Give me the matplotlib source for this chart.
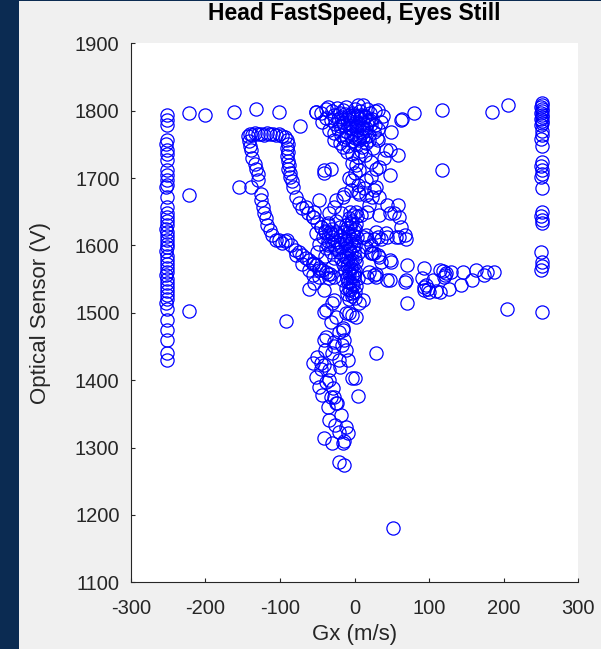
import matplotlib.pyplot as plt
from matplotlib.patches import Rectangle

plt.rcParams['font.family'] = ['Liberation Sans', 'DejaVu Sans']
plt.rcParams['axes.unicode_minus'] = False

# saturated readings at the left and right ends of the Gx range
left_gx = [-252, -251, -252, -252, -253, -252, -251, -252, -252, -252, -251, -252,
           -253, -252, -252, -252, -252, -251, -252, -253, -252, -252, -251, -252,
           -252, -253, -252, -252, -251, -252, -252, -253, -252, -252, -251, -252,
           -252, -252, -253, -252, -252, -252, -251, -252, -252]
left_v = [1793, 1786, 1779, 1756, 1750, 1742, 1735, 1727, 1712, 1705, 1697, 1690,
          1686, 1672, 1657, 1648, 1642, 1636, 1630, 1625, 1620, 1614, 1608, 1602,
          1597, 1591, 1585, 1579, 1573, 1567, 1561, 1556, 1550, 1544, 1538, 1532,
          1526, 1520, 1515, 1506, 1489, 1474, 1460, 1440, 1430]

right_gx = [251, 251, 250, 251, 251, 250, 251, 251, 250, 251, 251, 250, 251, 251,
            250, 251, 251, 250, 251, 251, 250, 251, 251, 250, 251, 251, 250, 251,
            251, 250, 251]
right_v = [1811, 1808, 1805, 1802, 1799, 1796, 1793, 1790, 1787, 1784, 1781, 1778,
           1770, 1764, 1758, 1748, 1724, 1718, 1712, 1706, 1701, 1685, 1650, 1644,
           1638, 1634, 1590, 1576, 1569, 1563, 1501]

# isolated samples
iso_gx = [-222, -200, -162, -132, -101, -73, -52, -222, -155, -222, -92, 80, 117,
          184, 206, 117, 205, 71, 52, 64, 29]
iso_v = [1796, 1794, 1798, 1802, 1798, 1777, 1798, 1675, 1687, 1503, 1488, 1797,
         1801, 1798, 1808, 1712, 1506, 1514, 1180, 1788, 1440]

# hook: top row at ~1765 and the right side coming down
hook_gx = [-143, -140, -137, -133, -129, -125, -121, -117, -113, -109, -105, -101,
           -97, -93, -90, -89, -90, -89, -90, -89, -88, -89, -87, -86, -84, -83,
           -79, -75, -70, -63, -56, -50, -45, -40]
hook_v = [1762, 1766, 1764, 1767, 1765, 1766, 1764, 1767, 1765, 1766, 1764, 1765,
          1763, 1761, 1756, 1750, 1744, 1738, 1732, 1726, 1720, 1714, 1708, 1702,
          1695, 1687, 1672, 1663, 1655, 1648, 1642, 1635, 1628, 1620]

# hook: left side running down into the centre
leg_gx = [-142, -140, -139, -137, -134, -132, -130, -129, -139, -126, -125, -123,
          -121, -119, -117, -113, -110, -105, -101, -97, -93, -90, -85, -80, -75,
          -70, -65, -61, -56, -52, -47, -43, -38, -33, -28, -79, -70, -61, -56,
          -61, -36, -30, -47]
leg_v = [1755, 1748, 1741, 1729, 1721, 1714, 1706, 1697, 1687, 1677, 1667, 1657,
         1648, 1640, 1631, 1623, 1615, 1608, 1608, 1604, 1607, 1608, 1600, 1593,
         1590, 1586, 1582, 1578, 1574, 1571, 1566, 1563, 1560, 1558, 1553, 1586,
         1573, 1563, 1556, 1535, 1558, 1568, 1553]

# dense cluster near the top centre
top_gx = [-45, -38, -36, -30, -27, -24, -20, -16, -12, -8, -3, 0, 4, 8, 11, 14, 17,
          21, 24, 28, 31, 35, 38, -43, -38, -32, -26, -22, -16, -10, -6, -1, 4, 8,
          12, 18, 22, 28, 32, -34, -28, -22, -18, -12, -6, -2, 3, 7, 11, 16, 20,
          26, 30, -27, -20, -14, -9, -4, 1, 6, 10, 15, 20, 31, 25, -16, -10, -4, 4,
          9, 14, -52, 49, 47, 42, 58, 40, 62, 22, 33, 29, 2, -3, 6, 22, 47, -3, 15,
          -41, -32, -5, 13, 29, 26, 4, 33, 24, 15, 6, -14, -16, -25, -47, -27, -65,
          44, 58, 53, 60, -54, -34, -18, 2, 9, 17, 20, 33, 47, -41, 0, 5, -8,
          -18, -13, -7, -2, 3, 9, 14, -20, -14, -8, -3, 2, 7, 12, 17, -11, -5, 0,
          6, 12]
top_v = [1796, 1803, 1806, 1799, 1793, 1804, 1797, 1801, 1806, 1794, 1796, 1803,
         1808, 1799, 1808, 1792, 1803, 1797, 1788, 1800, 1801, 1783, 1792, 1783,
         1789, 1786, 1780, 1788, 1783, 1788, 1781, 1787, 1781, 1789, 1783, 1786,
         1780, 1778, 1773, 1772, 1767, 1773, 1764, 1770, 1775, 1766, 1772, 1763,
         1769, 1775, 1764, 1768, 1760, 1756, 1752, 1758, 1748, 1755, 1750, 1757,
         1746, 1752, 1756, 1756, 1745, 1746, 1739, 1735, 1731, 1740, 1734, 1798,
         1769, 1741, 1741, 1734, 1729, 1786, 1724, 1717, 1714, 1719, 1722, 1712,
         1702, 1704, 1697, 1697, 1707, 1714, 1682, 1685, 1687, 1682, 1680, 1672,
         1672, 1675, 1677, 1677, 1672, 1667, 1667, 1657, 1657, 1660, 1660, 1648,
         1642, 1650, 1648, 1648, 1650, 1645, 1650, 1660, 1645, 1648, 1712, 1708,
         1690, 1700,
         1791, 1795, 1790, 1793, 1792, 1794, 1790, 1777, 1779, 1776, 1779, 1777,
         1779, 1775, 1780, 1761, 1762, 1760, 1759, 1761]

# vertical band around Gx = 0 and the blob just left of it
mid_gx = [-8, -3, 2, -12, -6, 0, -14, -9, -2, 3, -16, -11, -5, 1, -18, -12, -7,
          -1, 4, -14, -9, -3, 2, -16, -10, -5, 0, -13, -7, -1, 4, -15, -9, -3, 2,
          -12, -6, 0, -10, -4, 1, -7, -2, -6, 3, -45, -40, -35, -30, -25, -20, -42,
          -36, -30, -24, -19, -38, -32, -26, -21, -40, -28, -18, -35, -25, -56, -52,
          -56, -47, -54, -34, -41, -27, -38, -25, -12, -3, -50, -48,
          -5, -10, -1, -7, -4, -11, -2, -8, -5, -12, 0, -6, -9, -3, -7, -1, -4,
          -10, -6, -2, -8, -4, -30, -35, -27, -23, -33, -29]
mid_v = [1640, 1636, 1632, 1630, 1627, 1624, 1620, 1618, 1615, 1612, 1610, 1607,
         1604, 1601, 1598, 1596, 1593, 1590, 1588, 1585, 1582, 1579, 1576, 1573,
         1570, 1567, 1564, 1561, 1558, 1555, 1552, 1549, 1546, 1543, 1540, 1537,
         1534, 1531, 1528, 1525, 1522, 1520, 1645, 1650, 1643, 1628, 1622, 1630,
         1625, 1620, 1628, 1612, 1606, 1612, 1605, 1614, 1596, 1590, 1597, 1590,
         1585, 1582, 1580, 1633, 1636, 1642, 1618, 1573, 1563, 1544, 1551, 1534,
         1519, 1504, 1494, 1499, 1497, 1590, 1602,
         1634, 1626, 1622, 1614, 1609, 1603, 1599, 1594, 1588, 1583, 1581, 1577,
         1572, 1569, 1562, 1559, 1554, 1551, 1545, 1541, 1536, 1530, 1617, 1600,
         1608, 1595, 1620, 1602]

# loop to the right of the band and the arm out to Gx ~ 190
arm_gx = [62, 67, 55, 44, 35, 26, 17, 11, 31, 42, 29, 15, 60, 69, 22, 15, 26, 22,
          31, 35, 47, 20, 29, 44, 69, 71, 17, 29, 47, 67, 11, 24, 33, 49, 26, 93,
          114, 129, 145, 163, 178, 187, 91, 105, 120, 127, 143, 158, 174, 93, 100,
          114, 96, 93, 123, 118, 121, 98, 109]
arm_v = [1628, 1615, 1613, 1613, 1610, 1609, 1609, 1613, 1613, 1618, 1620, 1615,
         1613, 1610, 1600, 1598, 1588, 1588, 1586, 1576, 1578, 1561, 1553, 1549,
         1549, 1571, 1553, 1558, 1549, 1546, 1519, 1588, 1583, 1576, 1556, 1566,
         1563, 1561, 1561, 1563, 1561, 1561, 1551, 1549, 1553, 1536, 1541, 1549,
         1556, 1534, 1531, 1531, 1541, 1539, 1559, 1562, 1556, 1536, 1532]

# tail dropping below 1500
tail_gx = [-41, -32, -38, -21, -16, -7, 2, 6, -30, -50, -56, -45, -41, -34, -21,
           -9, -27, -14, -16, -52, -38, -34, -3, 0, -43, -32, -27, 4, -25, -36, -23,
           -18, -34, -41, -30, -21, -9, -16, -14, -21, -14, -41, -45, -27, -40, -12,
           -30, -20, -48, -29, -26, -12, -17]
tail_v = [1501, 1487, 1464, 1472, 1477, 1499, 1494, 1514, 1514, 1435, 1425, 1425,
          1422, 1415, 1430, 1430, 1457, 1459, 1474, 1405, 1398, 1400, 1403, 1403,
          1378, 1375, 1375, 1376, 1366, 1360, 1366, 1348, 1341, 1314, 1306, 1323,
          1321, 1306, 1309, 1279, 1274, 1460, 1417, 1450, 1445, 1445, 1440, 1420,
          1390, 1388, 1333, 1330, 1452]

gx = (left_gx + right_gx + iso_gx + hook_gx + leg_gx + top_gx + mid_gx
      + arm_gx + tail_gx)
volts = (left_v + right_v + iso_v + hook_v + leg_v + top_v + mid_v
         + arm_v + tail_v)

fig = plt.figure(figsize=(6.01, 6.49), dpi=100, facecolor='#f0f0f0')
# dark slide border on the left and top edges
fig.patches.append(Rectangle((0, 0), 19 / 601, 1, transform=fig.transFigure,
                             facecolor='#0b2b52', edgecolor='none'))
fig.patches.append(Rectangle((0, 648 / 649), 1, 1 / 649, transform=fig.transFigure,
                             facecolor='#0b2b52', edgecolor='none'))

ax = fig.add_axes([0.2175, 0.1028, 0.7448, 0.8305])
ax.plot(gx, volts, 'o', mfc='none', mec='#0000ff', ms=9.5, mew=0.9)

ax.set_xlim(-300, 300)
ax.set_ylim(1100, 1900)
ax.set_xticks(range(-300, 301, 100))
ax.set_yticks(range(1100, 1901, 100))

ax.spines['top'].set_visible(False)
ax.spines['right'].set_visible(False)
for s in ('left', 'bottom'):
    ax.spines[s].set_color('#262626')
    ax.spines[s].set_linewidth(0.8)
ax.tick_params(direction='in', length=3, width=0.8, colors='#262626',
               labelsize=14.5)
ax.tick_params(axis='x', pad=12)
ax.tick_params(axis='y', pad=8)

ax.set_title('Head FastSpeed, Eyes Still', fontsize=16.5, fontweight='bold',
             color='#000000', pad=17)
ax.set_xlabel('Gx (m/s)', fontsize=16, color='#262626', labelpad=4)
ax.set_ylabel('Optical Sensor (V)', fontsize=16, color='#262626', labelpad=17)

fig.savefig('out.png', dpi=100, facecolor=fig.get_facecolor())
